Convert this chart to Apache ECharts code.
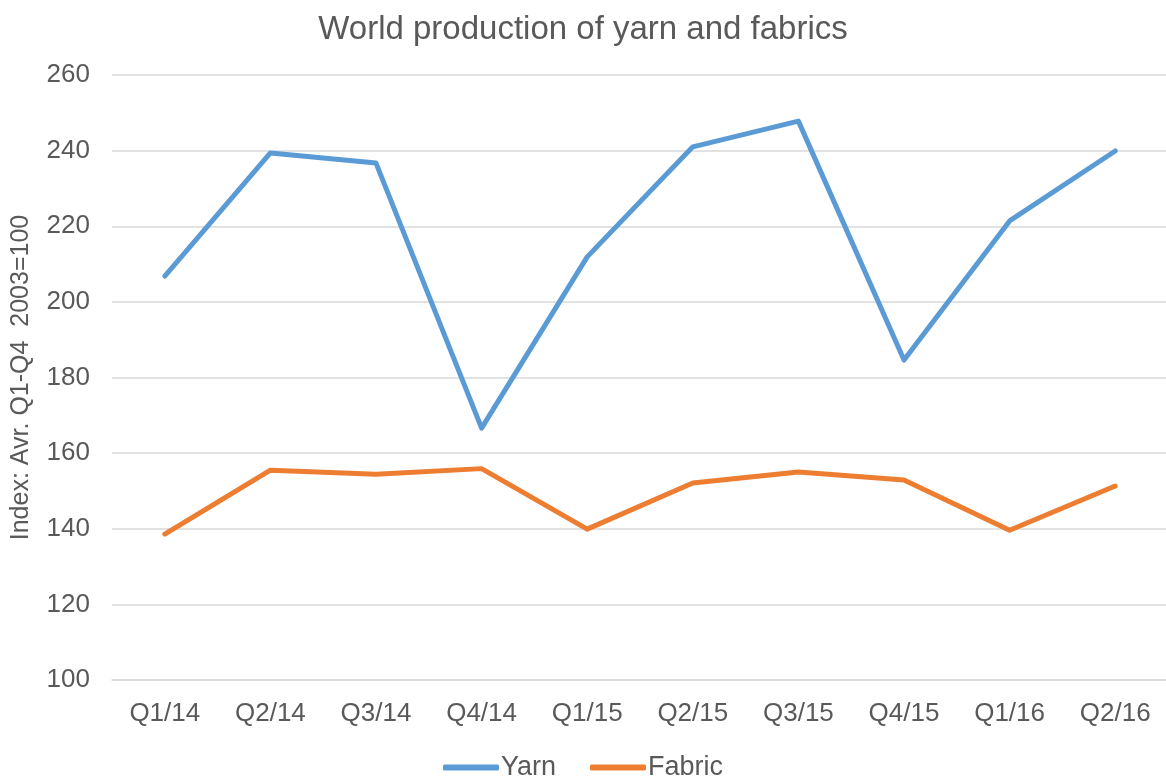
<!DOCTYPE html>
<html><head><meta charset="utf-8">
<script src="https://cdn.jsdelivr.net/npm/echarts@6/dist/echarts.min.js"></script>
<style>html,body{margin:0;padding:0;background:#fff}#c{width:1166px;height:776px}</style>
</head><body><div id="c"></div>
<script>
const categories = ['Q1/14','Q2/14','Q3/14','Q4/14','Q1/15','Q2/15','Q3/15','Q4/15','Q1/16','Q2/16'];
const yarn = [206.8, 239.4, 236.7, 166.6, 211.9, 241.0, 247.8, 184.6, 221.4, 239.9];
const fabric = [138.6, 155.5, 154.4, 155.9, 139.9, 152.1, 155.0, 152.9, 139.6, 151.3];
const font = 'Liberation Sans, Arial, sans-serif';
const chart = echarts.init(document.getElementById('c'));
chart.setOption({
  animation: false,
  title: { text: 'World production of yarn and fabrics', left: 'center', top: 8,
    textStyle: { fontFamily: font, fontSize: 33, fontWeight: 'normal', color: '#595959' } },
  grid: { left: 112, right: -2, top: 75, bottom: 96, containLabel: false, outerBoundsMode: 'none' },
  legend: { top: 749, left: 'center', itemWidth: 56, itemHeight: 6, itemGap: 34,
    icon: 'roundRect',
    textStyle: { fontFamily: font, fontSize: 27, color: '#595959', padding: [0,0,0,-3] },
    data: ['Yarn','Fabric'] },
  xAxis: { type: 'category', data: categories, boundaryGap: true,
    axisLine: { lineStyle: { color: '#d9d9d9', width: 1.5 } },
    axisTick: { show: false },
    axisLabel: { fontFamily: font, fontSize: 26, color: '#595959', margin: 21 } },
  yAxis: { type: 'value', min: 100, max: 260, interval: 20,
    name: 'Index: Avr. Q1-Q4  2003=100', nameLocation: 'middle', nameGap: 78,
    nameTextStyle: { fontFamily: font, fontSize: 25, color: '#595959' },
    axisLine: { show: false }, axisTick: { show: false },
    axisLabel: { fontFamily: font, fontSize: 26, color: '#595959', margin: 22 },
    splitLine: { lineStyle: { color: '#d9d9d9', width: 1.5 } } },
  series: [
    { name: 'Yarn', type: 'line', data: yarn, symbol: 'none',
      lineStyle: { color: '#5B9BD5', width: 5, cap: 'round', join: 'round' }, itemStyle: { color: '#5B9BD5' } },
    { name: 'Fabric', type: 'line', data: fabric, symbol: 'none',
      lineStyle: { color: '#ED7D31', width: 5, cap: 'round', join: 'round' }, itemStyle: { color: '#ED7D31' } }
  ]
});
</script></body></html>
